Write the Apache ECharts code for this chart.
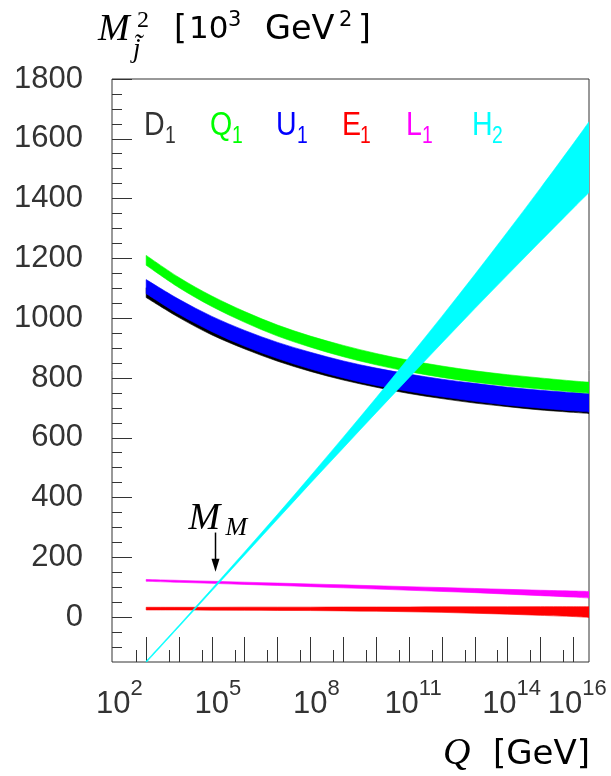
<!DOCTYPE html>
<html>
<head>
<meta charset="utf-8">
<script src="https://cdn.jsdelivr.net/npm/echarts@6/dist/echarts.min.js"></script>
<style>
html, body { margin: 0; padding: 0; background: #fff; }
#chart { width: 611px; height: 776px; }
</style>
</head>
<body>
<div id="chart"></div>
<script>
// Running soft masses squared [10^3 GeV^2] versus the scale Q, log10(Q / GeV).
const logQ = [3, 4, 5, 6, 7, 8, 9, 10, 11, 12, 13, 14, 15, 16, 16.477];

// Each field is drawn as a band between its lower and upper edge.
const D1_lo = [1069, 1002, 944, 897, 856, 822, 793, 769, 748, 731, 716, 704, 693, 685, 681];
const D1_hi = [1102, 1033, 975, 926, 885, 850, 820, 795, 775, 757, 742, 729, 719, 710, 706];
const U1_lo = [1082, 1013, 955, 906, 865, 830, 800, 775, 755, 737, 722, 709, 699, 690, 686];
const U1_hi = [1129, 1063, 1006, 959, 919, 886, 857, 833, 813, 796, 782, 769, 759, 751, 747];
const Q1_lo = [1177, 1102, 1039, 986, 940, 903, 871, 844, 821, 802, 786, 773, 763, 753, 749];
const Q1_hi = [1210, 1136, 1074, 1022, 977, 940, 909, 882, 859, 840, 824, 811, 800, 790, 786];
const E1_lo = [24, 24, 23.5, 23, 22.5, 22, 21, 20, 18, 16, 13, 10, 6, 2, -1];
const E1_hi = [33, 33, 33, 33.5, 33.5, 33.5, 34, 34, 34, 34.5, 34.5, 34.5, 35, 35, 35];
const L1_lo = [120, 116.5, 113, 109.5, 106, 102, 98, 94, 90, 86, 82, 77, 72, 67, 64];
const L1_hi = [126, 123, 120, 117, 114, 111, 108, 105, 102, 99, 96, 93, 90, 87.5, 86];
const H2_lo = [-152, -32, 88, 208, 328, 448, 566, 684, 801, 917, 1032, 1145, 1257, 1368, 1420];
const H2_hi = [-147, -27, 95, 219, 344, 472, 602, 734, 869, 1006, 1146, 1289, 1435, 1584, 1657];

// Axis ranges and ticks
const Q_MIN = 91.19, Q_MAX = 3e16;
const xMajorQ = [1e3, 1e4, 1e5, 1e6, 1e7, 1e8, 1e9, 1e10, 1e11, 1e12, 1e13, 1e14, 1e15, 1e16];
const xMinorQ = [5e2, 5e3, 5e4, 5e5, 5e6, 5e7, 5e8, 5e9, 5e10, 5e11, 5e12, 5e13, 5e14, 5e15];
const xLabelExp = [2, 5, 8, 11, 14];
const xLabelExpEnd = [16];
const Y_MIN = -150, Y_MAX = 1800;
const yLabels = [0, 200, 400, 600, 800, 1000, 1200, 1400, 1600, 1800];
const yMinor = [-100, -50, 0, 50, 100, 150, 200, 250, 300, 350, 400, 450, 500, 550, 600, 650, 700, 750,
  800, 850, 900, 950, 1000, 1050, 1100, 1150, 1200, 1250, 1300, 1350, 1400, 1450, 1500, 1550, 1600, 1650, 1700, 1750];

// Legend entries: field, index, colour
const legendNames = ['D', 'Q', 'U', 'E', 'L', 'H'];
const legendIdx = ['1', '1', '1', '1', '1', '2'];
const legendColors = ['#333333', '#00ff00', '#0000ff', '#ff0000', '#ff00ff', '#00ffff'];

// Messenger scale marker, log10(M_M / GeV)
const MM_logQ = 5.11;

const NUM = "'Liberation Sans', Arial, sans-serif";
const SANS = "'DejaVu Sans', sans-serif";
const SERIF = "'Liberation Serif', 'DejaVu Serif', serif";
const INK = '#333333';

const log10 = Math.log10;

// Smooth open curve through pixel points (Catmull-Rom as cubic Bezier segments).
function curvePath(pts, first) {
  let d = (first ? 'M' : 'L') + pts[0][0] + ' ' + pts[0][1];
  for (let i = 0; i < pts.length - 1; i++) {
    const p0 = pts[Math.max(i - 1, 0)], p1 = pts[i], p2 = pts[i + 1], p3 = pts[Math.min(i + 2, pts.length - 1)];
    const c1x = p1[0] + (p2[0] - p0[0]) / 6, c1y = p1[1] + (p2[1] - p0[1]) / 6;
    const c2x = p2[0] - (p3[0] - p1[0]) / 6, c2y = p2[1] - (p3[1] - p1[1]) / 6;
    d += ' C' + c1x + ' ' + c1y + ' ' + c2x + ' ' + c2y + ' ' + p2[0] + ' ' + p2[1];
  }
  return d;
}

function bandSeries(name, lo, hi, color) {
  return {
    type: 'custom', name: name, clip: true, silent: true, animation: false,
    data: logQ.map((q, i) => [q, lo[i], hi[i]]),
    encode: { x: 0, y: [1, 2] },
    renderItem: function (params, api) {
      if (params.dataIndex !== 0) return null;
      const upper = logQ.map((q, i) => api.coord([q, hi[i]]));
      const lower = logQ.map((q, i) => api.coord([q, lo[i]])).reverse();
      const d = curvePath(upper, true) + ' ' + curvePath(lower, false) + ' Z';
      return {
        type: 'path',
        shape: { pathData: d },
        style: { fill: color, stroke: color, lineWidth: 0.6 }
      };
    }
  };
}

const chart = echarts.init(document.getElementById('chart'), null, { renderer: 'canvas' });

const series = [
  bandSeries('D1', D1_lo, D1_hi, '#000000'),
  bandSeries('U1', U1_lo, U1_hi, '#0000ff'),
  bandSeries('Q1', Q1_lo, Q1_hi, '#00ff00'),
  bandSeries('E1', E1_lo, E1_hi, '#ff0000'),
  bandSeries('L1', L1_lo, L1_hi, '#ff00ff'),
  bandSeries('H2', H2_lo, H2_hi, '#00ffff')
];

const xCommon = {
  type: 'value', min: log10(Q_MIN), max: log10(Q_MAX), position: 'bottom',
  axisLine: { show: false, onZero: false }, splitLine: { show: false }
};
const yCommon = {
  type: 'value', min: Y_MIN, max: Y_MAX, position: 'left',
  axisLine: { show: false, onZero: false }, splitLine: { show: false }
};

// Power-of-ten labels: the mantissa "10" sits on its tick, shifted left for two-digit exponents.
function powerLabel(values) {
  return {
    customValues: values, margin: 16, hideOverlap: false,
    showMinLabel: true, showMaxLabel: true,
    formatter: function (v) {
      const e = String(Math.round(v));
      return '{p' + e.length + '| }{b|10}{e|' + e + '}';
    },
    rich: {
      b: { fontSize: 31, fontFamily: NUM, color: INK, lineHeight: 42, verticalAlign: 'bottom' },
      e: { fontSize: 22, fontFamily: NUM, color: INK, lineHeight: 22, verticalAlign: 'top' },
      p1: { width: 12 },
      p2: { width: 8 }
    }
  };
}

chart.setOption({
  backgroundColor: '#ffffff',
  animation: false,
  grid: {
    left: 112, top: 79, right: 22, bottom: 114,
    containLabel: false, outerBoundsMode: 'none',
    show: true, borderColor: INK, borderWidth: 1, backgroundColor: 'transparent'
  },
  xAxis: [
    Object.assign({}, xCommon, {
      axisTick: { inside: true, length: 25, customValues: xMajorQ.map(log10), lineStyle: { color: INK } },
      axisLabel: powerLabel(xLabelExp)
    }),
    Object.assign({}, xCommon, {
      axisTick: { inside: true, length: 12, customValues: xMinorQ.map(log10), lineStyle: { color: INK } },
      axisLabel: { show: false }
    }),
    Object.assign({}, xCommon, {
      axisTick: { show: false },
      axisLabel: powerLabel(xLabelExpEnd)
    })
  ],
  yAxis: [
    Object.assign({}, yCommon, {
      axisTick: { inside: true, length: 20, customValues: yLabels, lineStyle: { color: INK } },
      axisLabel: {
        customValues: yLabels, margin: 29, fontSize: 31, fontFamily: NUM, color: INK,
        formatter: function (v) { return String(v); }
      }
    }),
    Object.assign({}, yCommon, {
      axisTick: { inside: true, length: 10, customValues: yMinor, lineStyle: { color: INK } },
      axisLabel: { show: false }
    })
  ],
  series: series
});

function txt(x, y, text, size, family, color, opts) {
  const o = opts || {};
  return {
    type: 'text', x: x, y: y, silent: true,
    scaleX: o.scaleX || 1,
    style: {
      text: text, fontSize: size, fontFamily: family, fill: color,
      fontStyle: o.italic ? 'italic' : 'normal',
      align: 'left', verticalAlign: 'middle'
    }
  };
}

const graphics = [];

// Vertical axis title: M^2_j~ [10^3 GeV^2]
graphics.push(txt(98, 30, 'M', 38, SERIF, '#000', { italic: true }));
graphics.push(txt(137, 21, '2', 24, SERIF, '#000'));
graphics.push(txt(133, 50, 'j\u0303', 27, SERIF, '#000', { italic: true }));
graphics.push(txt(174, 30, '[', 33, SANS, '#000'));
graphics.push(txt(189, 30, '10', 31, SANS, '#000'));
graphics.push(txt(228, 21, '3', 21, SANS, '#000'));
graphics.push(txt(265, 30, 'GeV', 33.5, SANS, '#000'));
graphics.push(txt(339, 21, '2', 21, SANS, '#000'));
graphics.push(txt(358, 30, ']', 33, SANS, '#000'));

// Horizontal axis title: Q [GeV]
graphics.push(txt(443, 754, 'Q', 38, SERIF, '#000', { italic: true }));
graphics.push(txt(493, 755, '[GeV]', 34, SANS, '#000'));

// Legend
const legendX = [144, 210, 276, 342, 406, 472];
const legendSubX = [165, 232, 297, 360, 422, 492];
legendNames.forEach(function (n, i) {
  graphics.push(txt(legendX[i], 126, n, 34, NUM, legendColors[i], { scaleX: 0.84 }));
  graphics.push(txt(legendSubX[i], 137, legendIdx[i], 23, NUM, legendColors[i], { scaleX: 0.84 }));
});

// Messenger scale marker with arrow
const arrowFrom = chart.convertToPixel({ xAxisIndex: 0, yAxisIndex: 0 }, [MM_logQ, 283]);
const arrowTip = chart.convertToPixel({ xAxisIndex: 0, yAxisIndex: 0 }, [MM_logQ, 152]);
graphics.push({
  type: 'line', silent: true,
  shape: { x1: arrowFrom[0], y1: arrowFrom[1], x2: arrowTip[0], y2: arrowTip[1] - 8 },
  style: { stroke: '#000', lineWidth: 1.5 }
});
graphics.push({
  type: 'polygon', silent: true,
  shape: { points: [[arrowTip[0] - 4, arrowTip[1] - 13], [arrowTip[0] + 4, arrowTip[1] - 13], [arrowTip[0], arrowTip[1]]] },
  style: { fill: '#000' }
});
graphics.push(txt(arrowFrom[0] - 27, arrowFrom[1] - 14, 'M', 38, SERIF, '#000', { italic: true }));
graphics.push(txt(arrowFrom[0] + 10, arrowFrom[1] - 4, 'M', 26, SERIF, '#000', { italic: true }));

chart.setOption({ graphic: graphics });
</script>
</body>
</html>
